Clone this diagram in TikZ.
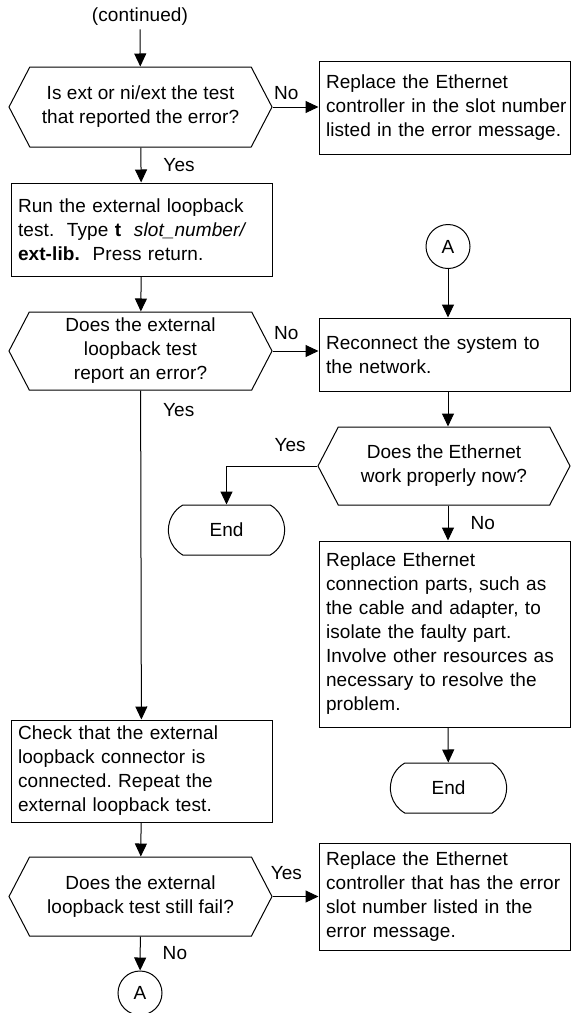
\documentclass[tikz,border=0pt]{standalone}
\usepackage{fontspec}
\setmainfont{Liberation Sans}[LetterSpace=0.5]
\frenchspacing
\usetikzlibrary{shapes.symbols,shapes.misc,arrows.meta}

\tikzset{
  every node/.style={font=\fontsize{19}{24}\selectfont},
  stepbox/.style={draw,line width=1pt,rectangle,align=left,inner xsep=2pt,text width=#1,
    execute at begin node={\leftskip=5pt\rightskip=-15pt plus 1fil}},
  stepbox/.default=247pt,
  decision/.style={draw,line width=1pt,signal,signal to=east and west,
    signal pointer angle=125,align=center,minimum width=263pt,inner sep=0pt},
  endnode/.style={draw,line width=1pt,rounded rectangle,rounded rectangle arc length=120,
    minimum width=123pt,minimum height=50pt},
  conn/.style={draw,line width=1pt,circle,minimum size=44pt,inner sep=0pt},
  flow/.style={line width=1pt,-{Triangle[length=13pt,width=12pt]}},
  lbl/.style={inner sep=2pt}
}

\begin{document}
\begin{tikzpicture}[x=1pt,y=1pt]
  \useasboundingbox (0,0) rectangle (571,-1013);

  % left column
  \node (cont) at (140,-17) {(continued)};
  \node[decision,minimum height=80pt] (d1) at (140.5,-107) {Is ext or ni/ext the test\\that reported the error?};
  \node[stepbox=257pt,minimum height=93pt] (b2) at (141.5,-229.5) {Run the external loopback\\test.\ \ Type \textbf{t}\ \ \textit{slot\_number/}\\\textbf{ext-lib.}\ \ Press return.};
  \node[decision,minimum height=78pt] (d2) at (140.5,-351) {Does the external\\loopback test\\report an error?};
  \node[stepbox=257pt,minimum height=102pt] (b6) at (141.5,-771) {Check that the external\\loopback connector is\\connected. Repeat the\\external loopback test.};
  \node[decision,minimum height=79pt] (d4) at (140.5,-896.5) {Does the external\\loopback test still fail?};
  \node[conn] (a2) at (140,-993) {A};

  % right column
  \node[stepbox,minimum height=93pt] (b1) at (444.5,-107.5) {Replace the Ethernet\\controller in the slot number\\listed in the error message.};
  \node[conn] (a1) at (448,-246.5) {A};
  \node[stepbox,minimum height=73pt] (b3) at (444.5,-354.5) {Reconnect the system to\\the network.};
  \node[decision,minimum height=78pt,minimum width=252pt] (d3) at (444,-466) {Does the Ethernet\\work properly now?};
  \node[endnode] (e1) at (226.5,-530) {End};
  \node[stepbox,minimum height=186pt] (b4) at (444.5,-634) {Replace Ethernet\\connection parts, such as\\the cable and adapter, to\\isolate the faulty part.\\Involve other resources as\\necessary to resolve the\\problem.};
  \node[endnode] (e2) at (448.5,-788) {End};
  \node[stepbox,minimum height=107pt] (b5) at (444.5,-896.5) {Replace the Ethernet\\controller that has the error\\slot number listed in the\\error message.};

  % connectors
  \draw[flow] (cont) -- (d1);
  \draw[flow] (d1.east) -- node[lbl,above=5pt,pos=0.3] {No} (b1.west |- d1.east);
  \draw[flow] (d1) -- node[lbl,right=20pt,pos=0.5] {Yes} (b2);
  \draw[flow] (b2) -- (d2);
  \draw[flow] (d2.east) -- node[lbl,above=9pt,pos=0.3] {No} (b3.west |- d2.east);
  \draw[flow] (d2) -- node[lbl,right=20pt,pos=0.06] {Yes} (b6);
  \draw[flow] (b6) -- (d4);
  \draw[flow] (d4.east) -- node[lbl,above=14pt,pos=0.3] {Yes} (b5.west |- d4.east);
  \draw[flow] (d4) -- node[lbl,right=20pt,pos=0.5] {No} (a2);
  \draw[flow] (a1) -- (a1 |- b3.north);
  \draw[flow] (b3.south -| a1) -- (d3.north -| a1);
  \draw[flow] (d3.west) -| node[lbl,above=12pt,pos=0.15] {Yes} (e1.north);
  \draw[flow] (d3.south -| a1) -- node[lbl,right=20pt,pos=0.5] {No} (b4.north -| a1);
  \draw[flow] (b4.south -| a1) -- (e2);
\end{tikzpicture}
\end{document}
